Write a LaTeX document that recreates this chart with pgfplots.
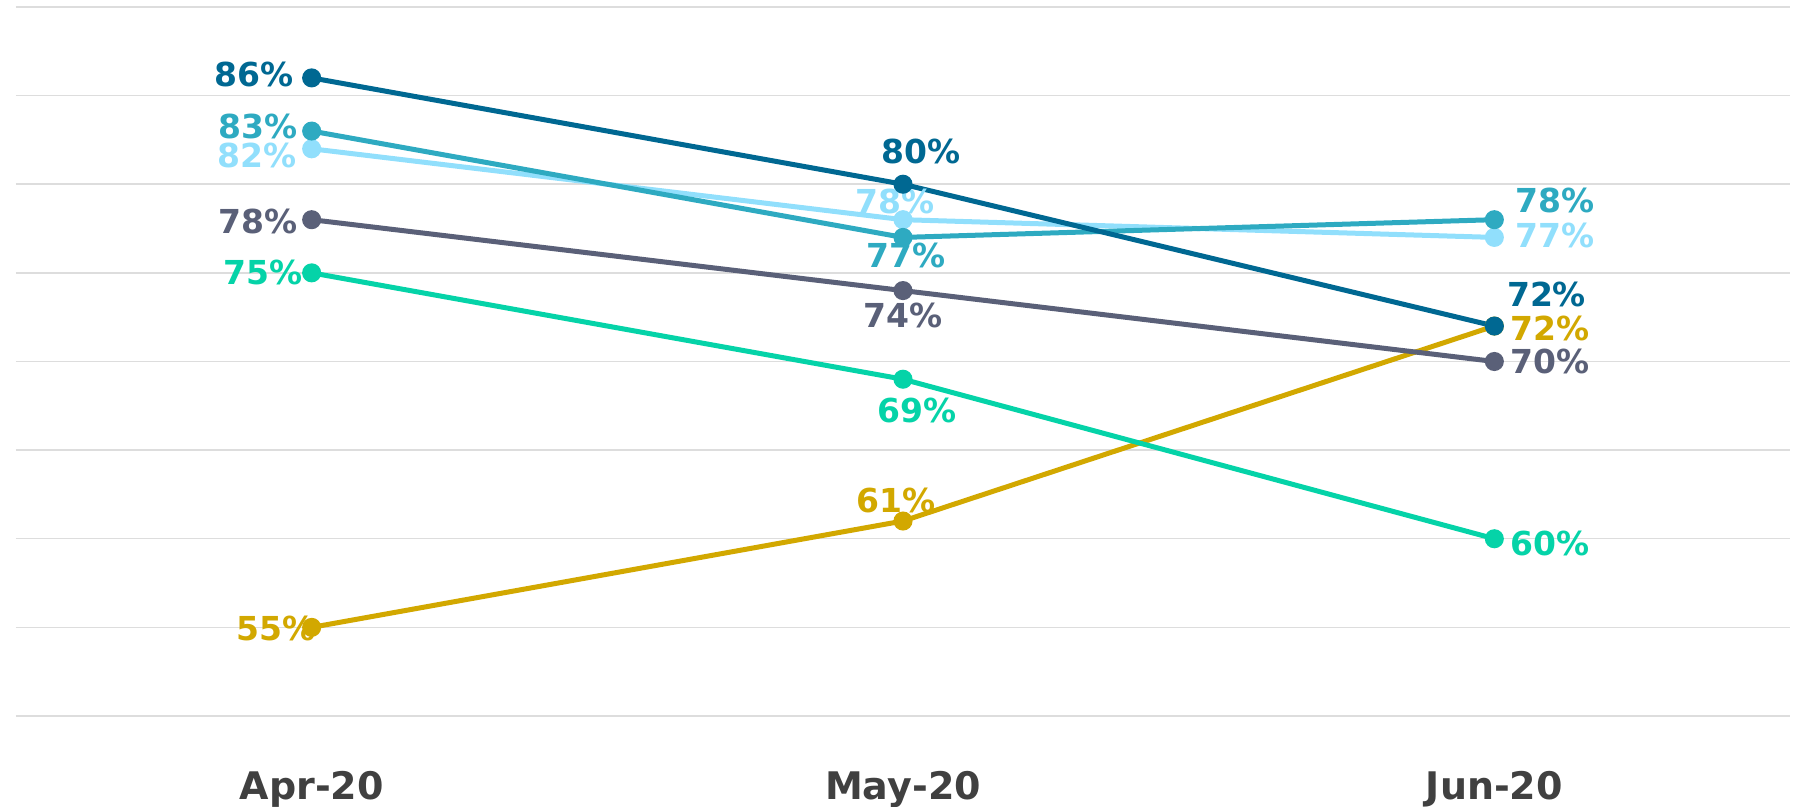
\documentclass[border=0pt]{standalone}
\usepackage{pgfplots}
\pgfplotsset{compat=1.18}
\usepackage{fontspec}
\setmainfont{DejaVu Sans}

\definecolor{cNavy}{HTML}{006892}
\definecolor{cTeal}{HTML}{2EAAC1}
\definecolor{cSky}{HTML}{91DFFC}
\definecolor{cSlate}{HTML}{5A6078}
\definecolor{cMint}{HTML}{05D3A8}
\definecolor{cGold}{HTML}{D2A800}
\definecolor{gridgray}{HTML}{DDDDDD}
\definecolor{tickgray}{HTML}{404040}

% Each series: x = month index, y = share in percent,
% anc/dx/dy = placement of the value label around the point
\pgfplotsset{
  ser/.style={color=#1, mark options={solid, fill=#1, draw=#1},
    line width=2.5pt, mark=*, mark size=3.5pt,
    point meta=explicit symbolic,
    nodes near coords={\pgfplotspointmeta\%},
    visualization depends on={value \thisrow{anc} \as \labanc},
    visualization depends on={value \thisrow{dx} \as \labdx},
    visualization depends on={value \thisrow{dy} \as \labdy},
    every node near coord/.append style={text=#1,
      font=\fontsize{16.5}{16.5}\selectfont\bfseries,
      inner sep=0pt, anchor=\labanc, xshift=\labdx pt, yshift=\labdy pt}},
}

\begin{document}
\begin{tikzpicture}
\begin{axis}[
  scale only axis, width=887pt, height=354.5pt,
  xmin=-0.5, xmax=2.5, ymin=50, ymax=90,
  xtick={0,1,2}, xticklabels={Apr-20,May-20,Jun-20},
  ytick={50,55,...,90}, yticklabels={},
  ymajorgrids, grid style={draw=gridgray, line width=0.75pt},
  axis line style={draw=none}, major tick length=0pt,
  xticklabel style={font=\fontsize{19}{19}\selectfont\bfseries, text=tickgray,
    anchor=base, yshift=-42pt, inner sep=0pt},
  clip=false,
]
\addplot[ser=cGold] table[x=x, y=y, meta=y] {
x y anc dx dy
0 55 east 3.4 -0.6
1 61 center -3.4 10.3
2 72 west 6.9 -1.1
};
\addplot[ser=cMint] table[x=x, y=y, meta=y] {
x y anc dx dy
0 75 east -3.4 0
1 69 center 6.9 -15.4
2 60 west 6.9 -2.3
};
\addplot[ser=cSlate] table[x=x, y=y, meta=y] {
x y anc dx dy
0 78 east -5.7 -1.1
1 74 center 0 -12.6
2 70 west 6.9 0
};
\addplot[ser=cSky] table[x=x, y=y, meta=y] {
x y anc dx dy
0 82 east -6.3 -3.4
1 78 center -4 9.2
2 77 west 9.2 1.1
};
\addplot[ser=cTeal] table[x=x, y=y, meta=y] {
x y anc dx dy
0 83 east -5.7 2.3
1 77 center 1.7 -9.2
2 78 west 9.2 9.7
};
\addplot[ser=cNavy] table[x=x, y=y, meta=y] {
x y anc dx dy
0 86 east -8 1.7
1 80 center 9.2 16.6
2 72 west 5.1 16
};
\end{axis}
\pgfresetboundingbox
\path ([xshift=-8pt,yshift=-45.5pt]current axis.south west)
  rectangle ([xshift=2pt,yshift=3.5pt]current axis.north east);
\end{tikzpicture}
\end{document}
